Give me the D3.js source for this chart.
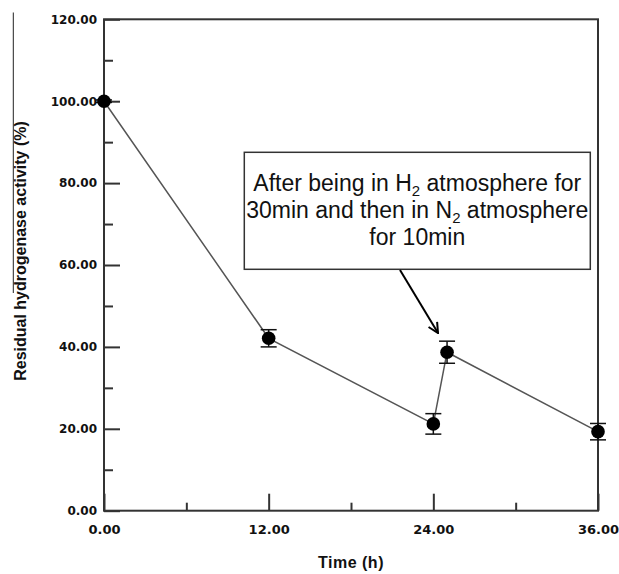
<!DOCTYPE html>
<html>
<head>
<meta charset="utf-8">
<script src="https://cdn.jsdelivr.net/npm/d3@7"></script>
<style>
  body { margin: 0; background: #fff; }
  svg { display: block; }
</style>
</head>
<body>
<svg id="chart"></svg>
<script>
const margin = {top: 19.3, right: 21, bottom: 63.3, left: 104},
      width = 619 - margin.left - margin.right,
      height = 574 - margin.top - margin.bottom;

// Data
const times = [0, 12, 24, 25, 36],
      activity = [100, 42.1, 21.2, 38.7, 19.3],
      errors = [0.3, 2.1, 2.5, 2.7, 2.0];

const xMajor = [0, 12, 24, 36],
      xMinor = [6, 18, 30],
      yMajor = [0, 20, 40, 60, 80, 100, 120],
      yMinor = [10, 30, 50, 70, 90, 110];

const noteLines = [
  ["After being in H", "2", " atmosphere for"],
  ["30min and then in N", "2", " atmosphere"],
  ["for 10min"]
];

const points = times.map((t, i) => ({t: t, v: activity[i], e: errors[i]}));

const x = d3.scaleLinear().domain([0, 36]).range([0, width]);
const y = d3.scaleLinear().domain([0, 120]).range([height, 0]);

const svg = d3.select("#chart")
              .attr("width", 619)
              .attr("height", 574);

const chart = svg.append("g")
                 .attr("transform", "translate(" + margin.left + "," + margin.top + ")");

const axisColor = "#333";
const fmt = d3.format(".2f");

// stray vertical line at the left edge of the figure
svg.append("line")
   .attr("x1", 13.3).attr("x2", 13.3)
   .attr("y1", 12.5).attr("y2", 293)
   .attr("stroke", "#222")
   .attr("stroke-width", 1);

// y axis, major ticks point inward
chart.append("g")
     .attr("class", "y-axis")
     .call(d3.axisLeft(y).tickValues(yMajor).tickSizeInner(-16).tickSizeOuter(0)
             .tickPadding(7).tickFormat(fmt))
     .call(g => g.select(".domain").remove())
     .call(g => g.selectAll(".tick line").attr("stroke", axisColor).attr("stroke-width", 2))
     .call(g => g.selectAll("text")
                 .attr("fill", "#111")
                 .style("font-family", "'DejaVu Sans', sans-serif")
                 .style("font-weight", "bold")
                 .style("font-size", "12px"));

chart.append("g")
     .call(d3.axisLeft(y).tickValues(yMinor).tickSizeInner(-9).tickSizeOuter(0).tickFormat(""))
     .call(g => g.select(".domain").remove())
     .call(g => g.selectAll(".tick line").attr("stroke", axisColor).attr("stroke-width", 2));

// x axis
chart.append("g")
     .attr("class", "x-axis")
     .attr("transform", "translate(0," + height + ")")
     .call(d3.axisBottom(x).tickValues(xMajor).tickSizeInner(-17).tickSizeOuter(0)
             .tickPadding(14).tickFormat(fmt))
     .call(g => g.select(".domain").remove())
     .call(g => g.selectAll(".tick line").attr("stroke", axisColor).attr("stroke-width", 2))
     .call(g => g.selectAll("text")
                 .attr("fill", "#111")
                 .style("font-family", "'DejaVu Sans', sans-serif")
                 .style("font-weight", "bold")
                 .style("font-size", "13px"));

chart.append("g")
     .attr("transform", "translate(0," + height + ")")
     .call(d3.axisBottom(x).tickValues(xMinor).tickSizeInner(-8).tickSizeOuter(0).tickFormat(""))
     .call(g => g.select(".domain").remove())
     .call(g => g.selectAll(".tick line").attr("stroke", axisColor).attr("stroke-width", 2));

// frame
chart.append("rect")
     .attr("width", width)
     .attr("height", height)
     .attr("fill", "none")
     .attr("stroke", axisColor)
     .attr("stroke-width", 2);

// connecting line
chart.append("path")
     .datum(points)
     .attr("fill", "none")
     .attr("stroke", "#555")
     .attr("stroke-width", 1.5)
     .attr("d", d3.line().x(d => x(d.t)).y(d => y(d.v)));

// error bars
const bars = chart.selectAll(".err")
                  .data(points)
                  .enter().append("g")
                  .attr("class", "err")
                  .attr("stroke", "#111")
                  .attr("stroke-width", 1.5);

bars.append("line")
    .attr("x1", d => x(d.t)).attr("x2", d => x(d.t))
    .attr("y1", d => y(d.v + d.e)).attr("y2", d => y(d.v - d.e));
bars.append("line")
    .attr("x1", d => x(d.t) - 8).attr("x2", d => x(d.t) + 8)
    .attr("y1", d => y(d.v + d.e)).attr("y2", d => y(d.v + d.e));
bars.append("line")
    .attr("x1", d => x(d.t) - 8).attr("x2", d => x(d.t) + 8)
    .attr("y1", d => y(d.v - d.e)).attr("y2", d => y(d.v - d.e));

// markers
chart.selectAll(".dot")
     .data(points)
     .enter().append("circle")
     .attr("class", "dot")
     .attr("cx", d => x(d.t))
     .attr("cy", d => y(d.v))
     .attr("r", 6.8)
     .attr("fill", "#000");

// annotation box
const box = {x: 244.3, y: 152.3, w: 346, h: 117};
svg.append("rect")
   .attr("x", box.x).attr("y", box.y)
   .attr("width", box.w).attr("height", box.h)
   .attr("fill", "#fff")
   .attr("stroke", axisColor)
   .attr("stroke-width", 1.5);

const note = svg.append("text")
                .attr("text-anchor", "middle")
                .style("font-family", "'Liberation Sans', Arial, sans-serif")
                .style("font-size", "23px")
                .attr("fill", "#111");

noteLines.forEach((parts, i) => {
  const line = note.append("tspan")
                   .attr("x", box.x + box.w / 2)
                   .attr("y", 191 + i * 27);
  parts.forEach((p, j) => {
    const s = line.append("tspan").text(p);
    if (j === 1) s.style("font-size", "15px").attr("dy", 5);
    if (j === 2) s.attr("dy", -5);
  });
});

// arrow
svg.append("defs").append("marker")
   .attr("id", "arrow")
   .attr("viewBox", "0 0 12 12")
   .attr("refX", 11).attr("refY", 6)
   .attr("markerWidth", 12).attr("markerHeight", 12)
   .attr("markerUnits", "userSpaceOnUse")
   .attr("orient", "auto")
   .append("path")
   .attr("d", "M1,1 L11,6 L1,11")
   .attr("fill", "none")
   .attr("stroke", "#000")
   .attr("stroke-width", 2);

svg.append("line")
   .attr("x1", 400).attr("y1", 270)
   .attr("x2", 438).attr("y2", 333)
   .attr("stroke", "#000")
   .attr("stroke-width", 2)
   .attr("marker-end", "url(#arrow)");

// axis titles
svg.append("text")
   .attr("x", margin.left + width / 2)
   .attr("y", 568)
   .attr("text-anchor", "middle")
   .style("font-family", "'Liberation Sans', Arial, sans-serif")
   .style("font-weight", "bold")
   .style("font-size", "16px")
   .style("letter-spacing", "0.5px")
   .attr("fill", "#111")
   .text("Time (h)");

svg.append("text")
   .attr("transform", "translate(25.5,251) rotate(-90)")
   .attr("text-anchor", "middle")
   .style("font-family", "'Liberation Sans', Arial, sans-serif")
   .style("font-weight", "bold")
   .style("font-size", "16px")
   .attr("fill", "#111")
   .text("Residual hydrogenase activity (%)");
</script>
</body>
</html>
